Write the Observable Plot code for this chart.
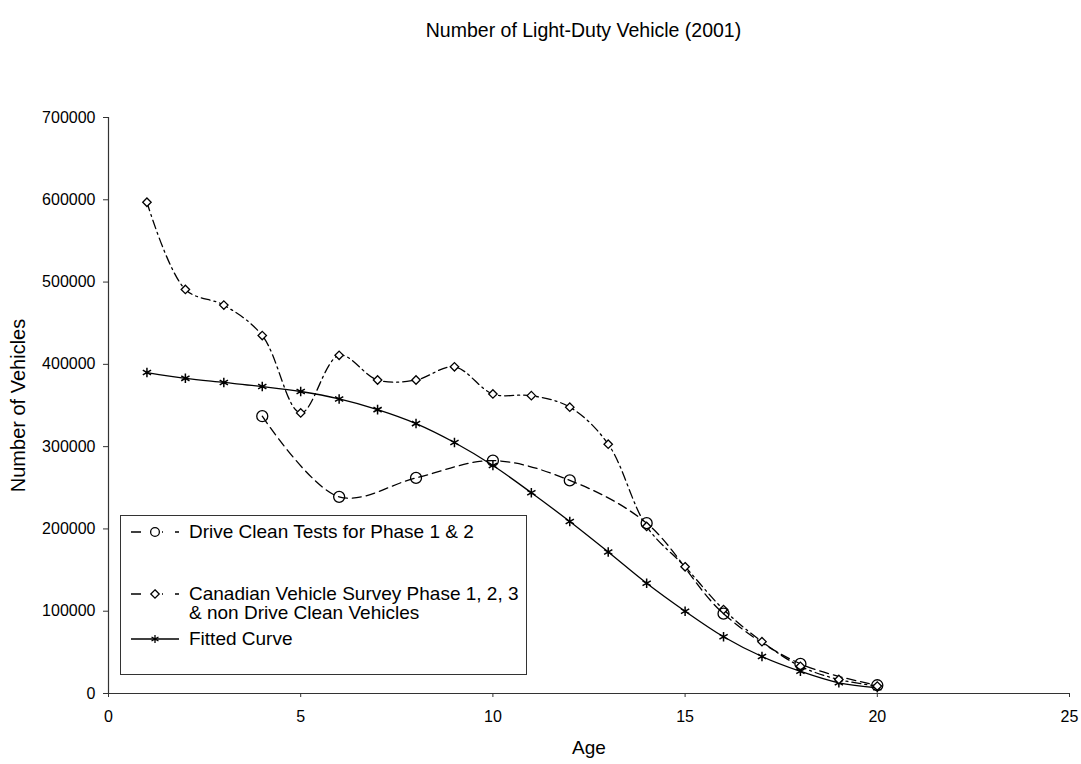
<!DOCTYPE html>
<html>
<head>
<meta charset="utf-8">
<script src="https://cdn.jsdelivr.net/npm/d3@7"></script>
<script src="https://cdn.jsdelivr.net/npm/@observablehq/plot@0.6"></script>
<style>
  html, body { margin: 0; padding: 0; background: #fff; }
  body { width: 1081px; height: 764px; position: relative; overflow: hidden; font-family: "Liberation Sans", Arial, sans-serif; }
  #title { height: 40px; box-sizing: border-box; padding-top: 20px; line-height: 20px; font-size: 19.5px; text-align: center; padding-left: 86px; color: #000; white-space: nowrap; }
  #legend { position: absolute; left: 120px; top: 515px; width: 407px; height: 160px; box-sizing: border-box; border: 1px solid #333; background: #fff; font-size: 19px; color: #000; }
  .row { position: absolute; left: 0; display: flex; align-items: flex-start; }
  .row svg { flex: none; }
  .row span { line-height: 19px; margin-left: 8px; white-space: nowrap; }
</style>
</head>
<body>
<div id="title">Number of Light-Duty Vehicle (2001)</div>
<div id="chart"></div>
<div id="legend"></div>
<script>
const ages = [1,2,3,4,5,6,7,8,9,10,11,12,13,14,15,16,17,18,19,20];
const fittedValues = [390000,383000,378000,373000,367000,358000,345000,328000,305000,277000,244000,209000,172000,134000,100000,69000,45000,27000,13000,7000];
const driveCleanAges = [4,6,8,10,12,14,16,18,20];
const driveCleanValues = [337000,239000,262000,283000,259000,207000,97000,36000,10000];
const surveyValues = [597000,491000,472000,435000,341000,411000,381000,381000,397000,364000,362000,348000,303000,203000,154000,102000,63000,33000,17000,9000];
const seriesNames = ["Drive Clean Tests for Phase 1 & 2", "Canadian Vehicle Survey Phase 1, 2, 3 & non Drive Clean Vehicles", "Fitted Curve"];
const xTicks = [0,5,10,15,20,25];
const yTicks = [0,100000,200000,300000,400000,500000,600000,700000];
const xLabel = "Age";
const yLabel = "Number of Vehicles";

const driveClean = driveCleanAges.map((a,i) => ({age: a, value: driveCleanValues[i]}));
const survey = ages.map((a,i) => ({age: a, value: surveyValues[i]}));
const fitted = ages.map((a,i) => ({age: a, value: fittedValues[i]}));

const font = "Liberation Sans, Arial, sans-serif";
const chart = Plot.plot({
  width: 1081,
  height: 724,
  marginTop: 77,
  marginBottom: 71,
  marginLeft: 108,
  marginRight: 12,
  style: {fontFamily: font, fontSize: "16px", color: "#000", background: "#fff"},
  x: {domain: [0,25], label: null},
  y: {domain: [0,700000], label: null},
  marks: [
    Plot.axisX({ticks: xTicks, tickSize: 4, tickPadding: 13, tickFormat: d3.format("d"), label: null, stroke: "#333"}),
    Plot.axisY({ticks: yTicks, tickSize: 5, tickPadding: 8, tickFormat: d3.format("d"), label: null, stroke: "#333"}),
    Plot.text([xLabel], {text: d => d, frameAnchor: "bottom", dy: 60, fontSize: 19, fill: "#000"}),
    Plot.text([yLabel], {text: d => d, frameAnchor: "left", textAnchor: "middle", dx: -90, rotate: -90, fontSize: 20, fill: "#000"}),
    Plot.ruleX([0], {stroke: "#333", strokeWidth: 1.2}),
    Plot.ruleY([0], {stroke: "#333", strokeWidth: 1.2}),
    Plot.line(fitted, {x: "age", y: "value", stroke: "#000", strokeWidth: 1.3, curve: "catmull-rom"}),
    Plot.line(driveClean, {x: "age", y: "value", stroke: "#000", strokeWidth: 1.3, strokeDasharray: "9,5", curve: "catmull-rom"}),
    Plot.line(survey, {x: "age", y: "value", stroke: "#000", strokeWidth: 1.3, strokeDasharray: "9,4,2,4", curve: "catmull-rom"}),
    Plot.dot(fitted, {x: "age", y: "value", symbol: "asterisk", r: 4.5, stroke: "#000", strokeWidth: 1.5}),
    Plot.dot(survey, {x: "age", y: "value", symbol: "diamond2", r: 3.8, stroke: "#000", fill: "#fff", strokeWidth: 1.3}),
    Plot.dot(driveClean, {x: "age", y: "value", symbol: "circle", r: 5.5, stroke: "#000", fill: "none", strokeWidth: 1.3})
  ]
});
document.getElementById("chart").appendChild(chart);

// Legend
const legend = document.getElementById("legend");
const rows = [
  {top: 6, dash: true, sym: "circle", lines: [seriesNames[0]]},
  {top: 68, dash: true, sym: "diamond", lines: ["Canadian Vehicle Survey Phase 1, 2, 3", "& non Drive Clean Vehicles"]},
  {top: 113, dash: false, sym: "asterisk", lines: [seriesNames[2]]}
];
rows.forEach(r => {
  const div = document.createElement("div");
  div.className = "row";
  div.style.top = r.top + "px";
  div.style.left = "8px";
  const ns = "http://www.w3.org/2000/svg";
  const s = document.createElementNS(ns, "svg");
  s.setAttribute("width", 52); s.setAttribute("height", 20);
  const ln = document.createElementNS(ns, "line");
  ln.setAttribute("x1", 2); ln.setAttribute("x2", 50); ln.setAttribute("y1", 10); ln.setAttribute("y2", 10);
  ln.setAttribute("stroke", "#000"); ln.setAttribute("stroke-width", 1.4);
  if (r.dash) ln.setAttribute("stroke-dasharray", "10,12");
  s.appendChild(ln);
  const sym = d3.symbol().type(r.sym === "circle" ? d3.symbolCircle : r.sym === "diamond" ? d3.symbolDiamond2 : d3.symbolAsterisk).size(r.sym === "circle" ? 60 : 45)();
  if (r.dash) {
    const bg = document.createElementNS(ns, "rect");
    bg.setAttribute("x", 19); bg.setAttribute("y", 3); bg.setAttribute("width", 14); bg.setAttribute("height", 14); bg.setAttribute("fill", "#fff");
    s.appendChild(bg);
  }
  const p = document.createElementNS(ns, "path");
  p.setAttribute("d", sym); p.setAttribute("transform", "translate(26,10)");
  p.setAttribute("stroke", "#000"); p.setAttribute("fill", "#fff"); p.setAttribute("stroke-width", 1.3);
  s.appendChild(p);
  div.appendChild(s);
  const span = document.createElement("span");
  span.innerHTML = r.lines.join("<br>");
  div.appendChild(span);
  legend.appendChild(div);
});
</script>
</body>
</html>
